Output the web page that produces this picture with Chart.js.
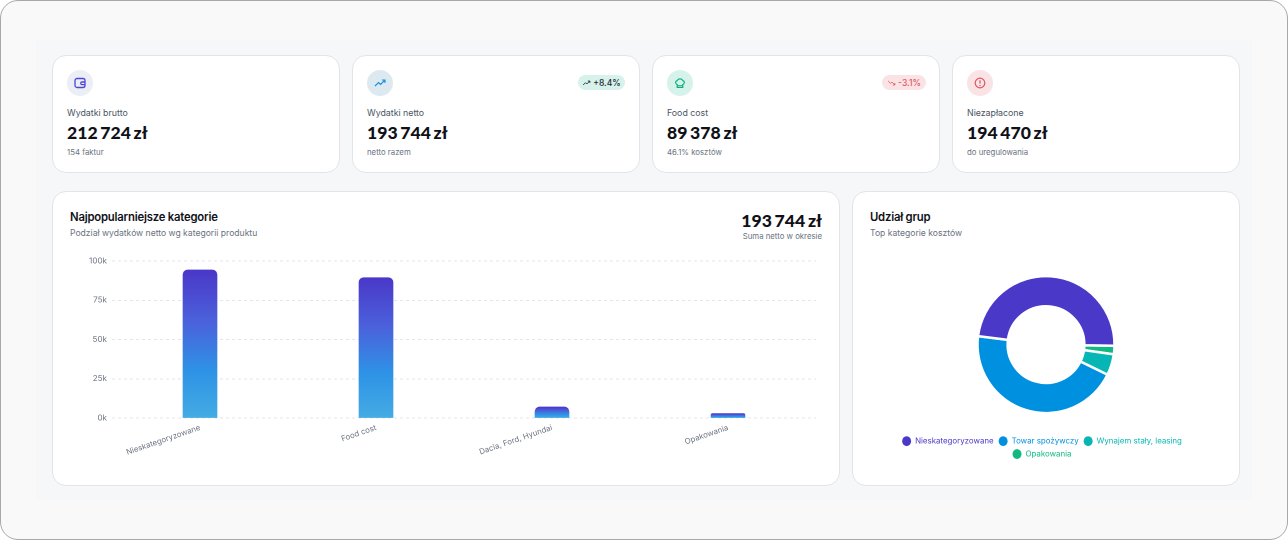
<!DOCTYPE html>
<html lang="pl">
<head>
<meta charset="utf-8">
<title>Wydatki</title>
<script src="https://cdn.jsdelivr.net/npm/chart.js@4"></script>
<style>
    * { box-sizing: border-box; }
    html, body { margin: 0; width: 1288px; height: 540px; background: #fff; overflow: hidden; font-family: Inter, sans-serif; }
    .frame { position: absolute; left: 0; top: 0; width: 1288px; height: 540px; border: 1px solid #a8a8a8; border-radius: 18px; background: #f9f9fa; }
    .panel { position: absolute; left: 36px; top: 40px; width: 1216px; height: 460px; background: #f6f7f9; }
    .card { position: absolute; background: #fff; border: 1px solid #e2e4ea; border-radius: 14px; }
    .abs { position: absolute; white-space: nowrap; line-height: 1; }
    .icon { position: absolute; left: 14px; top: 14px; width: 26px; height: 26px; border-radius: 50%; display: flex; align-items: center; justify-content: center; }
    .label { left: 14px; top: 53px; font-size: 8.8px; color: #4b5563; }
    .value { left: 14px; top: 68px; font-family: Lato, sans-serif; font-weight: 900; font-size: 17.6px; word-spacing: -1.5px; color: #0f1117; }
    .sub { left: 14px; top: 93px; font-size: 7.8px; color: #6b7280; }
    .pill { position: absolute; top: 19px; height: 15px; border-radius: 8px; font-size: 8.5px; font-weight: 500; display: flex; align-items: center; justify-content: center; gap: 2px; }
    .title { left: 17px; top: 20px; font-size: 11.3px; font-weight: 600; color: #0f1117; letter-spacing: -0.2px; }
    .subtitle { left: 17px; top: 37px; font-size: 8.6px; color: #6b7280; }
    canvas { position: absolute; }
</style>
</head>
<body>
<div class="frame"></div>
<div class="panel"></div>

<div class="card" style="left:52px;top:55px;width:288px;height:118px">
    <div class="icon" style="background:#eceef5">
        <svg width="12" height="12" viewBox="0 0 12 12" fill="none" stroke="#4f46d8" stroke-width="1.3"><rect x="1" y="1.5" width="10" height="9" rx="2"/><path d="M11 5H8a1 1 0 0 0 0 2.6h3"/></svg>
    </div>
    <div class="abs label">Wydatki brutto</div>
    <div class="abs value">212 724 zł</div>
    <div class="abs sub">154 faktur</div>
</div>

<div class="card" style="left:352px;top:55px;width:288px;height:118px">
    <div class="icon" style="background:#dde9f1">
        <svg width="12" height="12" viewBox="0 0 12 12" fill="none" stroke="#1b8fe0" stroke-width="1.1"><path d="M1 9l3.5-3.5 2 2L11 3M8 3h3v3"/></svg>
    </div>
    <div class="pill" style="left:225px;width:47px;background:#d6f2ea;color:#1f2937">
        <svg width="9" height="8" viewBox="0 0 12 12" fill="none" stroke="#1f2937" stroke-width="1.3"><path d="M1 9l3.5-3.5 2 2L11 3M8 3h3v3"/></svg>+8.4%
    </div>
    <div class="abs label">Wydatki netto</div>
    <div class="abs value">193 744 zł</div>
    <div class="abs sub">netto razem</div>
</div>

<div class="card" style="left:652px;top:55px;width:288px;height:118px">
    <div class="icon" style="background:#d5f3ea">
        <svg width="12" height="12" viewBox="0 0 12 12" fill="none" stroke="#10b07f" stroke-width="1.2"><path d="M3.2 7.5C1.2 6.8 1 4 3.2 3.6 4 1.3 8 1.3 8.8 3.6 11 4 10.8 6.8 8.8 7.5V10.5H3.2z"/><path d="M3.2 8.8h5.6"/></svg>
    </div>
    <div class="pill" style="left:229px;width:44px;background:#fae3e5;color:#e2535f">
        <svg width="9" height="8" viewBox="0 0 12 12" fill="none" stroke="#e2535f" stroke-width="1.3"><path d="M1 3l3.5 3.5 2-2L11 9M8 9h3V6"/></svg>-3.1%
    </div>
    <div class="abs label">Food cost</div>
    <div class="abs value">89 378 zł</div>
    <div class="abs sub">46.1% kosztów</div>
</div>

<div class="card" style="left:952px;top:55px;width:288px;height:118px">
    <div class="icon" style="background:#fae3e5">
        <svg width="12" height="12" viewBox="0 0 12 12" fill="none" stroke="#e2535f" stroke-width="1.2"><circle cx="6" cy="6" r="4.8"/><path d="M6 3.3v3.2M6 8v1"/></svg>
    </div>
    <div class="abs label">Niezapłacone</div>
    <div class="abs value">194 470 zł</div>
    <div class="abs sub">do uregulowania</div>
</div>

<div class="card" style="left:52px;top:191px;width:788px;height:295px">
    <div class="abs title">Najpopularniejsze kategorie</div>
    <div class="abs subtitle">Podział wydatków netto wg kategorii produktu</div>
    <div class="abs value" style="left:auto;right:17px;top:19.5px">193 744 zł</div>
    <div class="abs sub" style="left:auto;right:17px;top:41px">Suma netto w okresie</div>
</div>

<div class="card" style="left:852px;top:191px;width:388px;height:295px">
    <div class="abs title">Udział grup</div>
    <div class="abs subtitle">Top kategorie kosztów</div>
</div>

<canvas id="barChart" style="left:60px;top:250px;width:770px;height:230px"></canvas>
<canvas id="pieChart" style="left:886px;top:250px;width:320px;height:218px"></canvas>

<script>
/* Bar data */
const barLabels = ["Nieskategoryzowane", "Food cost", "Dacia, Ford, Hyundai", "Opakowania"];
const barValues = [94300, 89378, 7000, 2800];
const yTicks = [0, 25000, 50000, 75000, 100000];

/* Doughnut data, clockwise as drawn */
const pieLabels = ["Opakowania", "Wynajem stały, leasing", "Towar spożywczy", "Nieskategoryzowane"];
const pieValues = [3900, 9600, 86700, 93600];
const pieColors = ["#10b981", "#06b6b4", "#0090e0", "#4a38c9"];

Chart.defaults.font.family = "Inter, sans-serif";
Chart.defaults.animation = false;

const barFill = (ctx) => {
    const chart = ctx.chart;
    if (!chart.chartArea || ctx.parsed === undefined) return "#4a38c9";
    const y = chart.scales.y;
    const g = chart.ctx.createLinearGradient(0, y.getPixelForValue(ctx.parsed.y), 0, y.getPixelForValue(0));
    g.addColorStop(0, "#4a38c9");
    g.addColorStop(0.35, "#4b62dc");
    g.addColorStop(0.68, "#2e93e6");
    g.addColorStop(1, "#45ace4");
    return g;
};

new Chart(document.getElementById("barChart"), {
    type: "bar",
    data: {
        labels: barLabels,
        datasets: [
            {
                data: barValues,
                backgroundColor: barFill,
                borderRadius: { topLeft: 5, topRight: 5 },
                borderSkipped: false,
                barThickness: 34,
            },
        ],
    },
    options: {
        responsive: false,
        devicePixelRatio: 2,
        layout: { padding: { top: 11, right: 14 } },
        plugins: { legend: { display: false }, tooltip: { enabled: false } },
        scales: {
            x: {
                grid: { display: false },
                border: { display: false },
                afterFit: (s) => { s.height = 62; },
                ticks: { color: "#6b7280", font: { size: 7.8 }, minRotation: 19, maxRotation: 19, padding: -3, autoSkip: false },
            },
            y: {
                min: 0,
                max: 100000,
                afterFit: (s) => { s.width = 52; },
                afterBuildTicks: (s) => { s.ticks = yTicks.map((v) => ({ value: v })); },
                border: { display: false, dash: [3, 3] },
                grid: { color: "#e2e5ec", drawTicks: false },
                ticks: {
                    color: "#6b7280",
                    font: { size: 8.1 },
                    padding: 5,
                    callback: (v) => v / 1000 + "k",
                },
            },
        },
    },
});

new Chart(document.getElementById("pieChart"), {
    type: "doughnut",
    data: {
        labels: pieLabels,
        datasets: [
            {
                data: pieValues,
                backgroundColor: pieColors,
                borderColor: "#fff",
                borderWidth: 2.5,
                radius: 68.5,
                cutout: "56%",
            },
        ],
    },
    /* legend sits a little left of the ring */
    plugins: [
        {
            id: "legendShift",
            afterLayout: (chart) => {
                chart.legend.left -= 4;
                chart.legend.right -= 4;
            },
        },
    ],
    options: {
        responsive: false,
        devicePixelRatio: 2,
        rotation: 91,
        layout: { padding: { top: 7 } },
        plugins: {
            tooltip: { enabled: false },
            legend: {
                position: "bottom",
                reverse: true,
                labels: {
                    usePointStyle: true,
                    pointStyle: "circle",
                    boxWidth: 9,
                    boxHeight: 7,
                    pointStyleWidth: 9,
                    padding: 5,
                    font: { size: 7.9 },
                    generateLabels: (chart) =>
                        pieLabels.map((text, i) => ({
                            text: text,
                            fillStyle: pieColors[i],
                            strokeStyle: pieColors[i],
                            fontColor: pieColors[i],
                            lineWidth: 0,
                            pointStyle: "circle",
                            index: i,
                        })),
                },
            },
        },
    },
});
</script>
</body>
</html>
